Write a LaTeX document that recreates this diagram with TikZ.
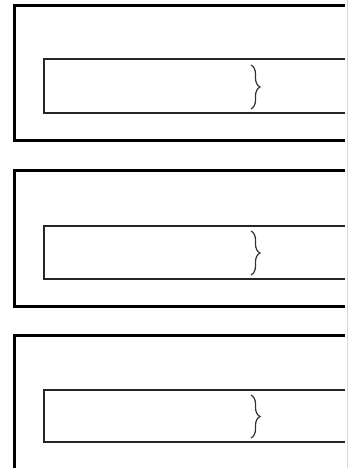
\documentclass[tikz,border=0pt]{standalone}
\usetikzlibrary{decorations.pathreplacing}
\begin{document}
\begin{tikzpicture}[x=1pt,y=-1pt,
  outerbox/.style={line width=3pt,line join=miter},
  innerbox/.style={line width=1.3pt,draw=black!85},
  bracestyle/.style={decorate,decoration={brace,amplitude=9pt},line width=1.2pt,draw=black!80}]
\useasboundingbox (0,0) rectangle (355,468);
\fill[white] (0,0) rectangle (355,468);
% right gray edge
\draw[black!15,line width=1pt] (347,0) -- (347,468);
% box 1
\draw[outerbox] (345,6) -- (14,6) -- (14,140) -- (345,140);
\draw[innerbox] (345,59) -- (44,59) -- (44,113) -- (345,113);
\draw[bracestyle] (251,65) -- (251,109);
% box 2
\draw[outerbox] (345,170) -- (14,170) -- (14,306) -- (345,306);
\draw[innerbox] (345,226) -- (44,226) -- (44,279) -- (345,279);
\draw[bracestyle] (251,231) -- (251,275);
% box 3
\draw[outerbox] (345,335) -- (14,335) -- (14,470);
\draw[innerbox] (345,390) -- (44,390) -- (44,442) -- (345,442);
\draw[bracestyle] (251,395) -- (251,438);
\end{tikzpicture}
\end{document}
